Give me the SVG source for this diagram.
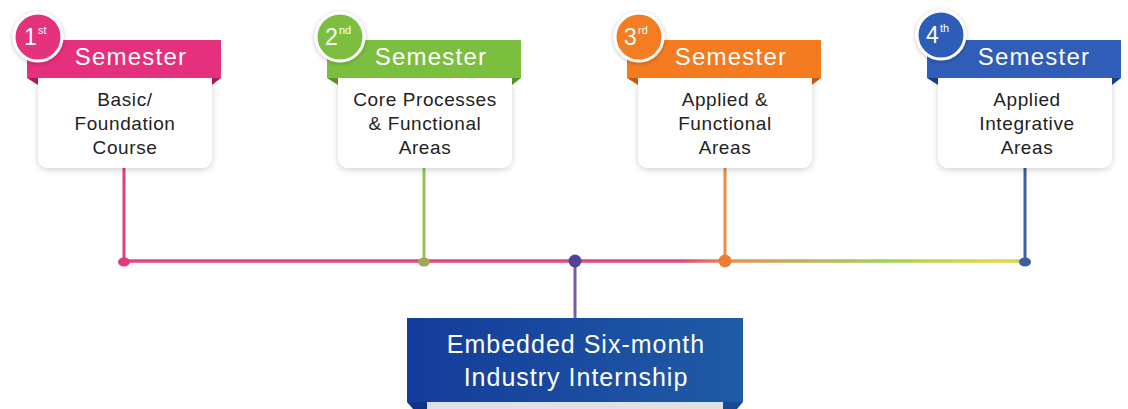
<svg xmlns="http://www.w3.org/2000/svg" width="1128" height="409" viewBox="0 0 1128 409">
<defs>
<filter id="sh" x="-20%" y="-20%" width="140%" height="150%">
<feDropShadow dx="0" dy="2" stdDeviation="3" flood-color="#000" flood-opacity="0.18"/>
</filter>
<filter id="csh" x="-30%" y="-30%" width="160%" height="160%">
<feDropShadow dx="0" dy="1" stdDeviation="2" flood-color="#000" flood-opacity="0.25"/>
</filter>
<linearGradient id="hline" gradientUnits="userSpaceOnUse" x1="124" y1="0" x2="1024" y2="0">
<stop offset="0" stop-color="#e3447f"/>
<stop offset="0.62" stop-color="#e5457f"/>
<stop offset="0.67" stop-color="#e88f55"/>
<stop offset="0.84" stop-color="#9fd055"/>
<stop offset="0.97" stop-color="#e2d945"/>
<stop offset="1" stop-color="#d8d050"/>
</linearGradient>
<linearGradient id="boxg" x1="0" y1="0" x2="1" y2="0">
<stop offset="0" stop-color="#143c9a"/>
<stop offset="1" stop-color="#1f5ba6"/>
</linearGradient>
<style>
.sem{font-family:"Liberation Sans",Arial,sans-serif;font-size:24px;fill:#fff;text-anchor:middle;letter-spacing:1.2px}
.body{font-family:"Liberation Sans",Arial,sans-serif;font-size:19px;fill:#222;text-anchor:middle;letter-spacing:0.6px}
.num{font-family:"Liberation Sans",Arial,sans-serif;font-size:23px;fill:#fff}
.sup{font-family:"Liberation Sans",Arial,sans-serif;font-size:11px;fill:#fff}
.card{fill:#fff;filter:url(#sh)}
.ring{stroke:#fff;stroke-width:3;filter:url(#csh)}
.big{font-family:"Liberation Sans",Arial,sans-serif;font-size:25px;fill:#fff;text-anchor:middle;letter-spacing:1px}
.pink{fill:#e5307d}.pinkd{fill:#a81c58}
.green{fill:#7cbf3f}.greend{fill:#55902a}
.orange{fill:#f47b20}.oranged{fill:#c05a12}
.blue{fill:#2f5db8}.blued{fill:#1b3c88}
</style>
</defs>
<rect width="1128" height="409" fill="#fff"/>

<g id="connectors" fill="none">
<line x1="124" y1="166" x2="124" y2="262" stroke="#e0407f" stroke-width="3"/>
<line x1="424" y1="166" x2="424" y2="262" stroke="#93c257" stroke-width="3"/>
<line x1="725" y1="166" x2="725" y2="262" stroke="#ea8c44" stroke-width="3"/>
<line x1="1025" y1="166" x2="1025" y2="262" stroke="#3c5f9f" stroke-width="3"/>
<line x1="124" y1="261" x2="1025" y2="261" stroke="url(#hline)" stroke-width="3.5"/>
<line x1="575" y1="262" x2="575" y2="319" stroke="#7a5aa9" stroke-width="3"/>
<ellipse cx="124" cy="262" rx="6" ry="4.5" fill="#e33a7c"/>
<ellipse cx="424" cy="262" rx="6" ry="4.5" fill="#a3a558"/>
<circle cx="575" cy="261" r="6.5" fill="#52409b"/>
<circle cx="725" cy="261" r="6.5" fill="#ef7c33"/>
<ellipse cx="1025" cy="262" rx="6" ry="4.5" fill="#3b5f9f"/>
</g>

<g id="sem1">
<path class="card" d="M38,74 H212 V156 Q212,168 200,168 H50 Q38,168 38,156 Z"/>
<rect class="pink" x="27" y="40" width="194" height="38"/>
<polygon class="pinkd" points="27,78 38,78 38,85"/>
<polygon class="pinkd" points="212,78 221,78 212,85"/>
<circle class="pink ring" cx="38" cy="37" r="24"/>
<text class="num" x="24" y="45">1</text><text class="sup" x="38" y="34">st</text>
<text class="sem" x="131" y="65">Semester</text>
<text class="body" x="125" y="106">Basic/</text>
<text class="body" x="125" y="130">Foundation</text>
<text class="body" x="125" y="154">Course</text>
</g>

<g id="sem2" transform="translate(300,0)">
<path class="card" d="M38,74 H212 V156 Q212,168 200,168 H50 Q38,168 38,156 Z"/>
<rect class="green" x="27" y="40" width="194" height="38"/>
<polygon class="greend" points="27,78 38,78 38,85"/>
<polygon class="greend" points="212,78 221,78 212,85"/>
<circle class="green ring" cx="40" cy="37" r="24"/>
<text class="num" x="25" y="45">2</text><text class="sup" x="39" y="34">nd</text>
<text class="sem" x="131" y="65">Semester</text>
<text class="body" x="125" y="106">Core Processes</text>
<text class="body" x="125" y="130">&amp; Functional</text>
<text class="body" x="125" y="154">Areas</text>
</g>

<g id="sem3" transform="translate(600,0)">
<path class="card" d="M38,74 H212 V156 Q212,168 200,168 H50 Q38,168 38,156 Z"/>
<rect class="orange" x="27" y="40" width="194" height="38"/>
<polygon class="oranged" points="27,78 38,78 38,85"/>
<polygon class="oranged" points="212,78 221,78 212,85"/>
<circle class="orange ring" cx="39" cy="37" r="24"/>
<text class="num" x="24" y="45">3</text><text class="sup" x="38" y="34">rd</text>
<text class="sem" x="131" y="65">Semester</text>
<text class="body" x="125" y="106">Applied &amp;</text>
<text class="body" x="125" y="130">Functional</text>
<text class="body" x="125" y="154">Areas</text>
</g>

<g id="sem4" transform="translate(900,0)">
<path class="card" d="M38,74 H212 V156 Q212,168 200,168 H50 Q38,168 38,156 Z"/>
<rect class="blue" x="27" y="40" width="194" height="38"/>
<polygon class="blued" points="27,78 38,78 38,85"/>
<polygon class="blued" points="212,78 221,78 212,85"/>
<circle class="blue ring" cx="41" cy="35" r="24"/>
<text class="num" x="26" y="43">4</text><text class="sup" x="40" y="32">th</text>
<text class="sem" x="134" y="65">Semester</text>
<text class="body" x="127" y="106">Applied</text>
<text class="body" x="127" y="130">Integrative</text>
<text class="body" x="127" y="154">Areas</text>
</g>

<g id="internship">
<rect x="427" y="398" width="296" height="11" fill="#dde2e7"/>
<rect x="407" y="318" width="336" height="84" fill="url(#boxg)"/>
<polygon points="407,402 427,402 427,409 413,409" fill="#0f3388"/>
<polygon points="723,402 743,402 737,409 723,409" fill="#17489a"/>
<text class="big" x="576" y="353">Embedded Six-month</text>
<text class="big" x="576" y="386">Industry Internship</text>
</g>
</svg>
